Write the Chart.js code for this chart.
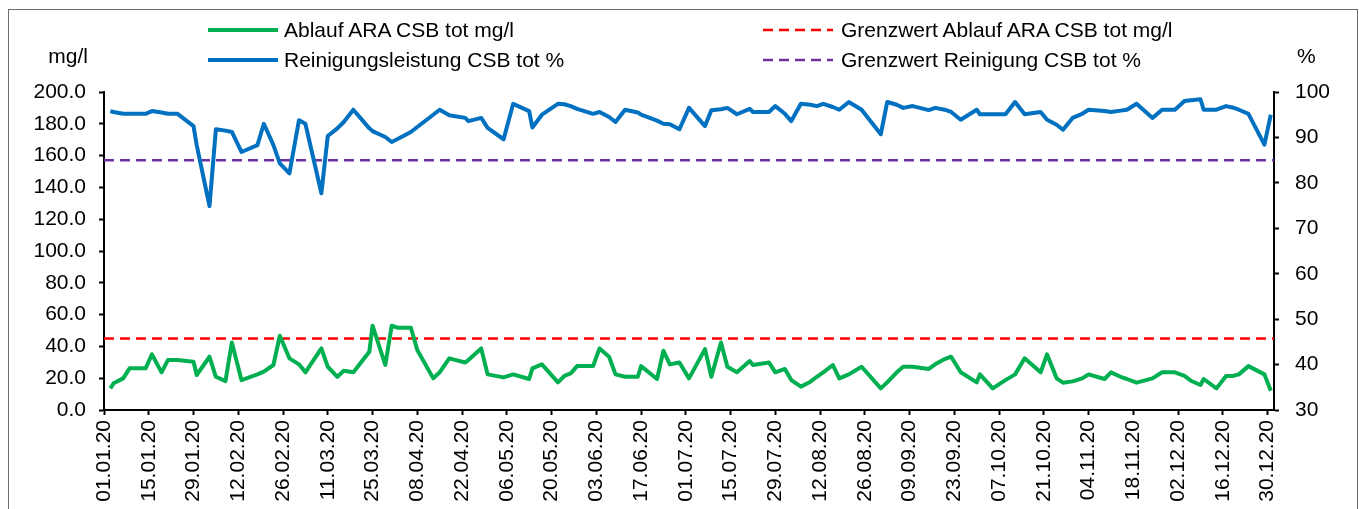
<!DOCTYPE html>
<html>
<head>
<meta charset="utf-8">
<title>ARA CSB 2020</title>
<script src="https://cdn.jsdelivr.net/npm/chart.js@4/dist/chart.umd.min.js"></script>
<style>
    body { margin: 0; background: #fff; font-family: "Liberation Sans", Arial, sans-serif; }
    #wrap { position: relative; width: 1359px; height: 509px; overflow: hidden; }
    #rahmen { position: absolute; left: 8px; top: 9px; width: 1348px; height: 540px; border: 1px solid #6e6e6e; }
    .leg { position: absolute; display: flex; align-items: center; height: 24px; font-size: 21px; line-height: 24px; white-space: nowrap; }
    .leg svg { margin-right: 6px; }
    .titel { position: absolute; top: 44px; font-size: 21px; line-height: 24px; }
    canvas { position: absolute; left: 0; top: 0; }
</style>
</head>
<body>
<div id="wrap">
    <div id="rahmen"></div>
    <canvas id="graficaCSB" width="1359" height="509"></canvas>

    <div class="leg" style="left:208px; top:18px;">
        <svg width="70" height="6"><line x1="0" y1="3" x2="70" y2="3" stroke="#00B050" stroke-width="4"/></svg>
        Ablauf ARA CSB tot mg/l
    </div>
    <div class="leg" style="left:763px; top:18px;">
        <svg width="72" height="6"><line x1="0" y1="3" x2="70" y2="3" stroke="#FF0000" stroke-width="2.5" stroke-dasharray="10 6"/></svg>
        Grenzwert Ablauf ARA CSB tot mg/l
    </div>
    <div class="leg" style="left:208px; top:48px;">
        <svg width="70" height="6"><line x1="0" y1="3" x2="70" y2="3" stroke="#0070C0" stroke-width="4"/></svg>
        Reinigungsleistung CSB tot %
    </div>
    <div class="leg" style="left:763px; top:48px;">
        <svg width="72" height="6"><line x1="0" y1="3" x2="70" y2="3" stroke="#7030A0" stroke-width="2.5" stroke-dasharray="10 6"/></svg>
        Grenzwert Reinigung CSB tot %
    </div>

    <div class="titel" style="left:0; width:88px; text-align:right;">mg/l</div>
    <div class="titel" style="left:1297px;">%</div>
</div>

<script>

// Messtage (Tage seit 01.01.2020)
const tage = [
    2, 3, 6, 8, 13, 15, 18, 20, 23, 28,
    29, 33, 35, 38, 40, 43, 48, 50, 53, 55,
    58, 61, 63, 68, 70, 73, 75, 78, 83, 84,
    88, 90, 92, 96, 98, 103, 105, 108, 113, 114,
    118, 120, 125, 128, 133, 134, 137, 142, 144, 146,
    148, 153, 155, 158, 160, 163, 167, 168, 173, 175,
    177, 180, 183, 188, 190, 193, 195, 198, 202, 203,
    208, 210, 213, 215, 218, 221, 223, 225, 228, 230,
    233, 237, 243, 245, 248, 250, 253, 258, 260, 263,
    265, 268, 273, 274, 278, 282, 285, 288, 293, 295,
    298, 300, 303, 306, 308, 313, 315, 318, 320, 323,
    328, 331, 335, 338, 340, 343, 344, 348, 351, 353,
    355, 358, 363, 365
];

// Ablauf ARA CSB tot (mg/l)
const ablaufCSB = [
    13.6, 16.8, 19.9, 26.2, 26.2, 35.0, 23.7, 31.4, 31.4, 30.4,
    22.0, 33.5, 20.9, 18.2, 42.5, 18.8, 22.4, 24.1, 28.3, 46.7,
    32.5, 28.7, 23.7, 38.7, 27.2, 20.9, 24.7, 23.7, 36.6, 53.0,
    28.3, 53.0, 51.7, 51.7, 37.7, 19.9, 23.7, 32.5, 29.9, 31.4,
    38.7, 22.4, 20.5, 22.4, 19.5, 26.2, 28.7, 17.4, 21.4, 23.0,
    27.6, 27.6, 38.7, 33.5, 22.4, 20.9, 20.9, 27.6, 19.5, 37.3,
    28.7, 29.9, 19.9, 38.3, 20.9, 42.5, 27.2, 23.7, 30.8, 28.3,
    29.9, 23.7, 25.8, 18.8, 14.7, 17.8, 20.9, 23.7, 28.3, 19.9,
    22.4, 27.2, 13.6, 17.4, 23.7, 27.2, 27.2, 25.8, 28.7, 32.0,
    33.5, 23.7, 17.4, 22.4, 13.6, 18.8, 22.4, 32.5, 23.7, 35.0,
    19.9, 17.2, 18.0, 19.9, 22.4, 19.5, 23.7, 20.9, 19.5, 17.2,
    19.9, 23.7, 23.7, 21.4, 18.4, 15.7, 19.5, 13.6, 21.4, 21.4,
    22.4, 27.6, 22.4, 12.1
];

// Reinigungsleistung CSB tot (%)
const reinigungCSB = [
    95.8, 95.6, 95.2, 95.2, 95.2, 95.8, 95.5, 95.2, 95.2, 92.5,
    88.3, 74.9, 91.8, 91.5, 91.2, 86.8, 88.3, 93.0, 88.3, 84.3,
    82.1, 93.8, 93.0, 77.7, 90.3, 92.0, 93.4, 96.1, 92.0, 91.4,
    90.1, 89.0, 89.7, 91.2, 92.3, 95.0, 96.1, 94.9, 94.3, 93.6,
    94.3, 92.1, 89.6, 97.4, 95.8, 92.2, 95.0, 97.4, 97.3, 96.9,
    96.3, 95.2, 95.6, 94.5, 93.4, 96.1, 95.5, 95.0, 93.7, 93.0,
    92.9, 91.8, 96.5, 92.5, 96.0, 96.2, 96.5, 95.1, 96.3, 95.6,
    95.6, 96.9, 95.2, 93.6, 97.4, 97.2, 96.9, 97.4, 96.7, 96.1,
    97.8, 96.1, 90.7, 97.8, 97.2, 96.5, 96.9, 96.0, 96.5, 96.1,
    95.6, 93.9, 96.1, 95.1, 95.1, 95.1, 97.8, 95.1, 95.6, 93.9,
    92.8, 91.7, 94.3, 95.2, 96.1, 95.8, 95.6, 95.9, 96.1, 97.4,
    94.3, 96.1, 96.1, 98.0, 98.2, 98.4, 96.1, 96.1, 96.9, 96.6,
    96.1, 95.2, 88.4, 95.0
];

const grenzwertAblauf = 45;     // mg/l
const grenzwertReinigung = 85;  // %

// Datumsbeschriftung alle 14 Tage
const xLabels = [
    "01.01.20", "15.01.20", "29.01.20", "12.02.20", "26.02.20", "11.03.20",
    "25.03.20", "08.04.20", "22.04.20", "06.05.20", "20.05.20", "03.06.20",
    "17.06.20", "01.07.20", "15.07.20", "29.07.20", "12.08.20", "26.08.20",
    "09.09.20", "23.09.20", "07.10.20", "21.10.20", "04.11.20", "18.11.20",
    "02.12.20", "16.12.20", "30.12.20"
];

const xMin = 0;
const xMax = 366;

Chart.defaults.font.family = '"Liberation Sans", Arial, sans-serif';
Chart.defaults.font.size = 21;
Chart.defaults.color = "#000";

function punkte(werte){
    return tage.map((t, i) => ({ x: t, y: werte[i] }));
}

function linie(wert){
    return [
        { x: xMin, y: wert },
        { x: xMax, y: wert }
    ];
}

const achse = {
    grid: {
        drawOnChartArea: false,
        drawTicks: true,
        tickLength: 5,
        tickWidth: 2,
        tickColor: "#000"
    },
    border: {
        color: "#000",
        width: 2
    }
};

new Chart(document.getElementById("graficaCSB"), {

    type: "line",

    data: {
        datasets: [
            {
                label: "Ablauf ARA CSB tot mg/l",
                data: punkte(ablaufCSB),
                yAxisID: "yL",
                borderColor: "#00B050",
                borderWidth: 4,
                borderJoinStyle: "round",
                pointRadius: 0
            },
            {
                label: "Reinigungsleistung CSB tot %",
                data: punkte(reinigungCSB),
                yAxisID: "yR",
                borderColor: "#0070C0",
                borderWidth: 4,
                borderJoinStyle: "round",
                pointRadius: 0
            },
            {
                label: "Grenzwert Ablauf ARA CSB tot mg/l",
                data: linie(grenzwertAblauf),
                yAxisID: "yL",
                borderColor: "#FF0000",
                borderWidth: 2.5,
                borderDash: [10, 6],
                pointRadius: 0
            },
            {
                label: "Grenzwert Reinigung CSB tot %",
                data: linie(grenzwertReinigung),
                yAxisID: "yR",
                borderColor: "#7030A0",
                borderWidth: 2.5,
                borderDash: [10, 6],
                pointRadius: 0
            }
        ]
    },

    options: {
        responsive: false,
        animation: false,
        layout: {
            padding: { top: 92, left: 0, right: 0, bottom: 0 }
        },
        plugins: {
            legend: { display: false },
            tooltip: { enabled: false }
        },
        scales: {
            x: {
                ...achse,
                type: "linear",
                min: xMin,
                max: xMax,
                afterFit: (s) => { s.height = 99; },
                ticks: {
                    stepSize: 14,
                    includeBounds: false,
                    autoSkip: false,
                    minRotation: 90,
                    maxRotation: 90,
                    padding: 5,
                    callback: (v) => xLabels[Math.round(v / 14)]
                }
            },
            yL: {
                ...achse,
                type: "linear",
                position: "left",
                min: 0,
                max: 200,
                afterFit: (s) => { s.width = 104; },
                ticks: {
                    stepSize: 20,
                    padding: 13,
                    callback: (v) => v.toFixed(1)
                }
            },
            yR: {
                ...achse,
                type: "linear",
                position: "right",
                min: 30,
                max: 100,
                afterFit: (s) => { s.width = 85; },
                ticks: {
                    stepSize: 10,
                    padding: 16
                }
            }
        }
    }
});

</script>
</body>
</html>
